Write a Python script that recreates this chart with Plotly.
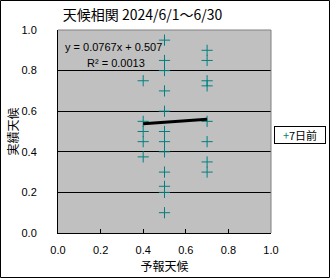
import plotly.graph_objects as go

# Data
x_forecast = [0.4, 0.4, 0.4, 0.4, 0.4,
              0.5, 0.5, 0.5, 0.5, 0.5, 0.5, 0.5, 0.5, 0.5, 0.5, 0.5, 0.5,
              0.7, 0.7, 0.7, 0.7, 0.7, 0.7, 0.7, 0.7]
y_actual = [0.75, 0.55, 0.5, 0.45, 0.375,
            0.95, 0.85, 0.8, 0.7, 0.6, 0.5, 0.45, 0.4, 0.3, 0.23, 0.2, 0.1,
            0.9, 0.85, 0.75, 0.725, 0.55, 0.45, 0.35, 0.3]
trend_slope = 0.0767
trend_intercept = 0.507
trend_r2 = 0.0013
series_name = "7日前"
title_text = "天候相関 2024/6/1～6/30"
tick_vals = [0.0, 0.2, 0.4, 0.6, 0.8, 1.0]
tick_text = ["0.0", "0.2", "0.4", "0.6", "0.8", "1.0"]

W, H = 330, 278
ML, MR, MT, MB = 58, 59, 30, 45
PW, PH = W - ML - MR, H - MT - MB

def px(xp):
    return (xp - ML) / PW

def py(yp):
    return (H - MB - yp) / PH

fig = go.Figure()
fig.add_trace(go.Scatter(
    x=x_forecast, y=y_actual, mode="markers", name=series_name, showlegend=False,
    marker=dict(symbol="cross-thin", size=8, line=dict(color="#008080", width=1), color="#008080"),
))
tx = [min(x_forecast), max(x_forecast)]
ty = [trend_slope * v + trend_intercept for v in tx]
fig.add_trace(go.Scatter(x=tx, y=ty, mode="lines", line=dict(color="black", width=3),
                         showlegend=False, hoverinfo="skip"))

font_main = "Noto Sans CJK JP, Liberation Sans, sans-serif"

fig.update_layout(
    width=W, height=H, margin=dict(l=ML, r=MR, t=MT, b=MB, autoexpand=False),
    paper_bgcolor="white", plot_bgcolor="#C0C0C0",
    font=dict(family=font_main, size=11, color="black"),
    showlegend=False,
    xaxis=dict(range=[0, 1], tickvals=tick_vals, ticktext=tick_text, showgrid=False,
               ticks="inside", ticklen=4, tickcolor="black", showline=True, linecolor="black",
               zeroline=False, mirror=False, tickfont=dict(family="Liberation Sans", size=11),
               ticklabelstandoff=7,
               title=dict(text="予報天候", font=dict(size=12), standoff=7)),
    yaxis=dict(range=[0, 1], tickvals=tick_vals, ticktext=tick_text, showgrid=True,
               gridcolor="black", gridwidth=1, ticks="", showline=True, linecolor="black",
               zeroline=False, tickfont=dict(family="Liberation Sans", size=11),
               ticklabelstandoff=18,
               title=dict(text="実績天候", font=dict(size=12), standoff=0)),
    title=dict(text=title_text, x=px(150), xanchor="center", y=1 - 15 / H, yanchor="middle",
               font=dict(size=14)),
)

# right & top borders of plot area (gray)
fig.add_shape(type="line", xref="paper", yref="paper", x0=0, x1=1, y0=1, y1=1,
              line=dict(color="#808080", width=1))
fig.add_shape(type="line", xref="paper", yref="paper", x0=1, x1=1, y0=0, y1=1,
              line=dict(color="#808080", width=1))
# outer chart border
fig.add_shape(type="rect", xref="paper", yref="paper",
              x0=px(0.5), x1=px(W - 0.5), y0=py(H - 0.5), y1=py(0.5),
              line=dict(color="black", width=1))

fig.add_annotation(xref="paper", yref="paper", x=px(63), y=py(47), xanchor="left", yanchor="middle",
                   text=f"y = {trend_slope}x + {trend_intercept}", showarrow=False,
                   font=dict(family="Liberation Sans", size=11))
fig.add_annotation(xref="paper", yref="paper", x=px(85), y=py(63), xanchor="left", yanchor="middle",
                   text=f"R² = {trend_r2}", showarrow=False,
                   font=dict(family="Liberation Sans", size=11))

# legend box
fig.add_annotation(xref="paper", yref="paper", x=px(274), y=py(135), xanchor="left", yanchor="middle",
                   text=f"<span style='color:#008080'>+</span>{series_name}", showarrow=False,
                   bordercolor="black", borderwidth=1, bgcolor="white", borderpad=1,
                   width=48, height=14, align="center",
                   font=dict(size=11))

fig.write_html("out.html")
